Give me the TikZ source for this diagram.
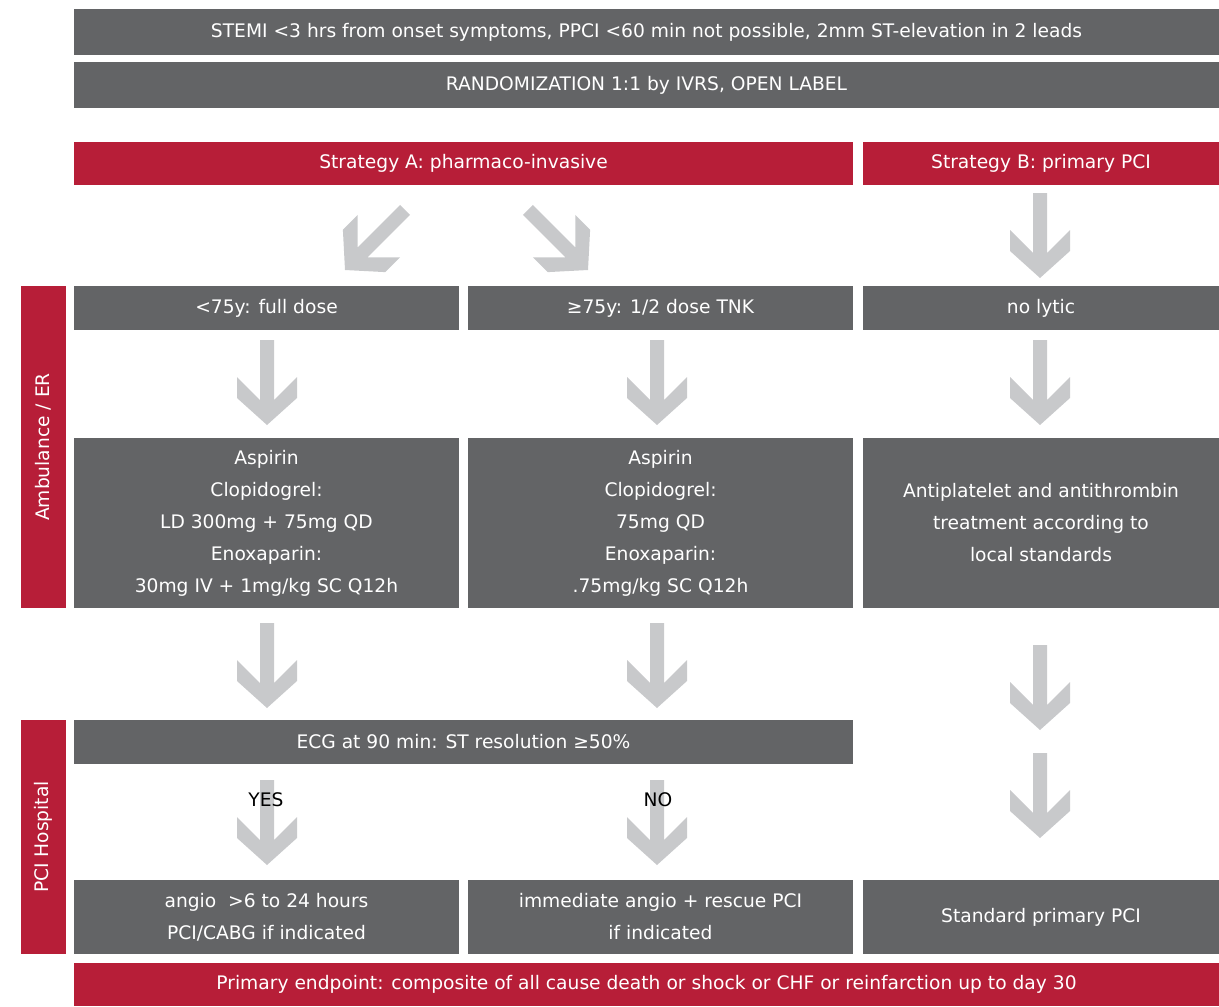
\documentclass[tikz,border=0pt]{standalone}
\usepackage{fontspec}
\setmainfont{DejaVu Sans}
\usetikzlibrary{calc}

\definecolor{boxgrey}{RGB}{99,100,102}
\definecolor{boxred}{RGB}{183,30,56}
\definecolor{arrowgrey}{RGB}{200,201,203}
\newcommand{\pxu}{0.75pt}

\tikzset{
  greybox/.style={fill=boxgrey, text=white, inner sep=0pt, align=center,
    font=\fontsize{14}{24}\selectfont},
  redbox/.style={greybox, fill=boxred},
  fatarrow/.pic={
    \fill[arrowgrey] (0,0) -- (-30,-27) -- (-30,-48) -- (-7,-25) -- (-7,-85)
      -- (7,-85) -- (7,-25) -- (30,-48) -- (30,-27) -- cycle;
  }
}

\begin{document}
\begin{tikzpicture}[x=0.75pt,y=-0.75pt]
        \useasboundingbox (0,0) rectangle (1219,1006);

        % Inclusion and randomization
        \node[greybox, minimum width=1145*\pxu, minimum height=46*\pxu] (incl) at (646.5,32)
          {STEMI <3 hrs from onset symptoms, PPCI <60 min not possible, 2mm ST-elevation in 2 leads};
        \node[greybox, minimum width=1145*\pxu, minimum height=46*\pxu] (rand) at (646.5,85)
          {RANDOMIZATION 1:1 by IVRS, OPEN LABEL};

        % Strategies
        \node[redbox, minimum width=779*\pxu, minimum height=43*\pxu] (stratA) at (463.5,163.5)
          {Strategy A: pharmaco-invasive};
        \node[redbox, minimum width=356*\pxu, minimum height=43*\pxu] (stratB) at (1041,163.5)
          {Strategy B: primary PCI};

        % Ambulance / ER
        \node[redbox, rotate=90, minimum width=322*\pxu, minimum height=45*\pxu] (sideER) at (43.5,447)
          {Ambulance / ER};
        \node[greybox, minimum width=385*\pxu, minimum height=44*\pxu] (young) at (266.5,308)
          {<75y: full dose};
        \node[greybox, minimum width=385*\pxu, minimum height=44*\pxu] (old) at (660.5,308)
          {≥75y: 1/2 dose TNK};
        \node[greybox, minimum width=356*\pxu, minimum height=44*\pxu] (nolytic) at (1041,308)
          {no lytic};
        \node[greybox, minimum width=385*\pxu, minimum height=170*\pxu] (drugY) at (266.5,523)
          {Aspirin\\Clopidogrel:\\LD 300mg + 75mg QD\\Enoxaparin:\\30mg IV + 1mg/kg SC Q12h};
        \node[greybox, minimum width=385*\pxu, minimum height=170*\pxu] (drugO) at (660.5,523)
          {Aspirin\\Clopidogrel:\\75mg QD\\Enoxaparin:\\.75mg/kg SC Q12h};
        \node[greybox, minimum width=356*\pxu, minimum height=170*\pxu] (drugB) at (1041,523)
          {Antiplatelet and antithrombin\\treatment according to\\local standards};

        % PCI Hospital
        \node[redbox, rotate=90, minimum width=234*\pxu, minimum height=45*\pxu] (sidePCI) at (43.5,837)
          {PCI Hospital};
        \node[greybox, minimum width=779*\pxu, minimum height=44*\pxu] (ecg) at (463.5,742)
          {ECG at 90 min: ST resolution ≥50\%};
        \node[greybox, minimum width=385*\pxu, minimum height=74*\pxu] (late) at (266.5,917)
          {angio\ \ >6 to 24 hours\\PCI/CABG if indicated};
        \node[greybox, minimum width=385*\pxu, minimum height=74*\pxu] (rescue) at (660.5,917)
          {immediate angio + rescue PCI\\if indicated};
        \node[greybox, minimum width=356*\pxu, minimum height=74*\pxu] (ppci) at (1041,917)
          {Standard primary PCI};

        % Endpoint
        \node[redbox, minimum width=1145*\pxu, minimum height=43*\pxu] (endp) at (646.5,984.5)
          {Primary endpoint: composite of all cause death or shock or CHF or reinfarction up to day 30};

        % Arrows
        \pic[rotate=-45] at (345,270) {fatarrow};
        \pic[rotate=45] at (588,270) {fatarrow};
        \pic at (1040,278) {fatarrow};
        \foreach \cx in {267,657,1040} {
          \pic at (\cx,425) {fatarrow};
        }
        \pic at (267,708) {fatarrow};
        \pic at (657,708) {fatarrow};
        \pic at (1040,730) {fatarrow};
        \pic at (1040,838) {fatarrow};
        \pic at (267,865) {fatarrow};
        \pic at (657,865) {fatarrow};

        % Answers
        \node[font=\fontsize{14}{24}\selectfont] (yes) at (266,800) {YES};
        \node[font=\fontsize{14}{24}\selectfont] (no) at (658,800) {NO};
    \end{tikzpicture}
\end{document}
